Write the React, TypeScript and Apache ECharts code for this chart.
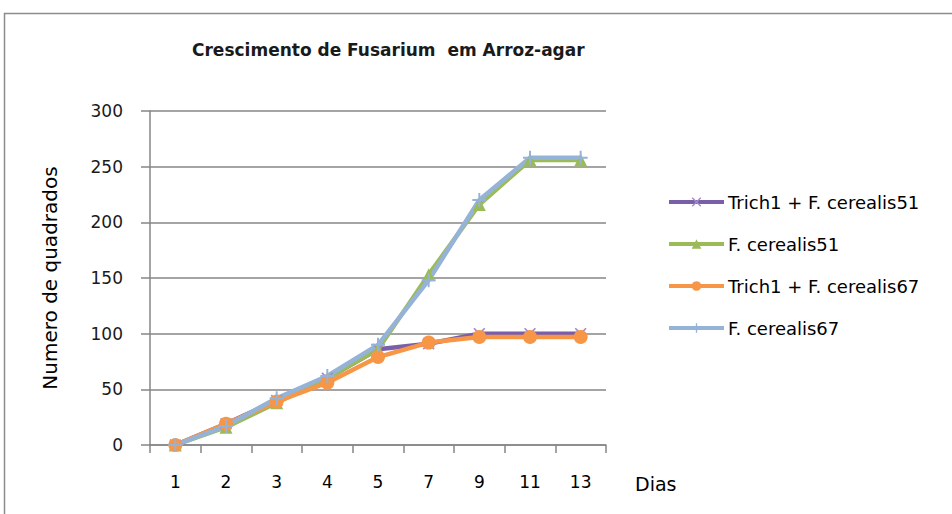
import React, { useEffect, useRef } from "react";
import * as echarts from "echarts";

const dias = ["1", "2", "3", "4", "5", "7", "9", "11", "13"];
const trich51 = [0, 19, 40, 60, 86, 91, 100, 100, 100];
const fc51 = [0, 16, 38, 60, 86, 153, 216, 256, 256];
const trich67 = [0, 19, 39, 56, 79, 92, 97, 97, 97];
const fc67 = [0, 17, 42, 62, 90, 148, 220, 258, 258];
const yTicks = [0, 50, 100, 150, 200, 250, 300];

const crossPath =
  "path://M0,1 L1,0 L5,4 L9,0 L10,1 L6,5 L10,9 L9,10 L5,6 L1,10 L0,9 L4,5 Z";
const plusPath =
  "path://M4.3,0 H5.7 V4.3 H10 V5.7 H5.7 V10 H4.3 V5.7 H0 V4.3 H4.3 Z";

export default function App() {
  const ref = useRef<HTMLDivElement>(null);
  useEffect(() => {
    const chart = echarts.init(ref.current!, undefined, { renderer: "svg" });
    const font = "DejaVu Sans";
    const mk = (
      name: string,
      data: number[],
      color: string,
      symbol: string,
      size: number,
      symColor?: string
    ) => ({
      name,
      type: "line",
      data,
      symbol,
      symbolSize: size,
      lineStyle: { color, width: 4.5 },
      itemStyle: { color: symColor || color },
      z: 2,
    });
    chart.setOption({
      animation: false,
      backgroundColor: "#ffffff",
      title: {
        text: "Crescimento de Fusarium  em Arroz-agar",
        left: 192,
        top: 41,
        padding: 0,
        textStyle: { fontFamily: font, fontSize: 17, fontWeight: "bold", color: "#1a1a1a" },
      },
      graphic: [
        {
          type: "rect",
          shape: { x: 4.5, y: 13.5, width: 1000, height: 600 },
          style: { fill: "none", stroke: "#8c8c8c", lineWidth: 1.5 },
          z: -1,
        },
      ],
      grid: { left: 150, right: 346, top: 111, bottom: 69 },
      legend: {
        orient: "vertical",
        left: 667,
        top: 193,
        padding: 0,
        itemGap: 24,
        itemWidth: 55,
        itemHeight: 12,
        lineStyle: { width: 4 },
        textStyle: { fontFamily: font, fontSize: 18, color: "#000", padding: [0, 0, 0, -1] },
        data: [
          "Trich1 + F. cerealis51",
          "F. cerealis51",
          "Trich1 + F. cerealis67",
          "F. cerealis67",
        ],
      },
      xAxis: {
        type: "category",
        data: dias,
        boundaryGap: true,
        name: "Dias",
        nameLocation: "end",
        nameGap: 29,
        nameTextStyle: {
          fontFamily: font,
          fontSize: 19,
          color: "#000",
          verticalAlign: "top",
          padding: [29, 0, 0, 0],
        },
        axisLine: { lineStyle: { color: "#868686", width: 1.5 } },
        axisTick: { show: true, length: 8, lineStyle: { color: "#868686", width: 1.5 } },
        axisLabel: { fontFamily: font, fontSize: 17, color: "#000", margin: 28 },
      },
      yAxis: {
        type: "value",
        min: 0,
        max: 300,
        interval: 50,
        name: "Numero de quadrados",
        nameLocation: "middle",
        nameGap: 90,
        nameRotate: 90,
        nameTextStyle: { fontFamily: font, fontSize: 20, color: "#000" },
        axisLine: { show: true, lineStyle: { color: "#868686", width: 1.5 } },
        axisTick: { show: true, length: 9, lineStyle: { color: "#868686", width: 1.5 } },
        axisLabel: {
          fontFamily: font,
          fontSize: 17,
          color: "#1a1a1a",
          margin: 27,
          formatter: (v: number) => (yTicks.includes(v) ? String(v) : ""),
        },
        splitLine: { lineStyle: { color: "#868686", width: 1.5 } },
      },
      series: [
        mk("Trich1 + F. cerealis51", trich51, "#7a5ea8", crossPath, 12, "#a08cc8"),
        mk("F. cerealis51", fc51, "#9bbb59", "triangle", 13),
        mk("Trich1 + F. cerealis67", trich67, "#f79646", "circle", 14),
        mk("F. cerealis67", fc67, "#95b3d7", plusPath, 14),
      ],
    });
    return () => chart.dispose();
  }, []);
  return (
    <div
      ref={ref}
      style={{ position: "absolute", left: 0, top: 0, width: 952, height: 514 }}
    />
  );
}
